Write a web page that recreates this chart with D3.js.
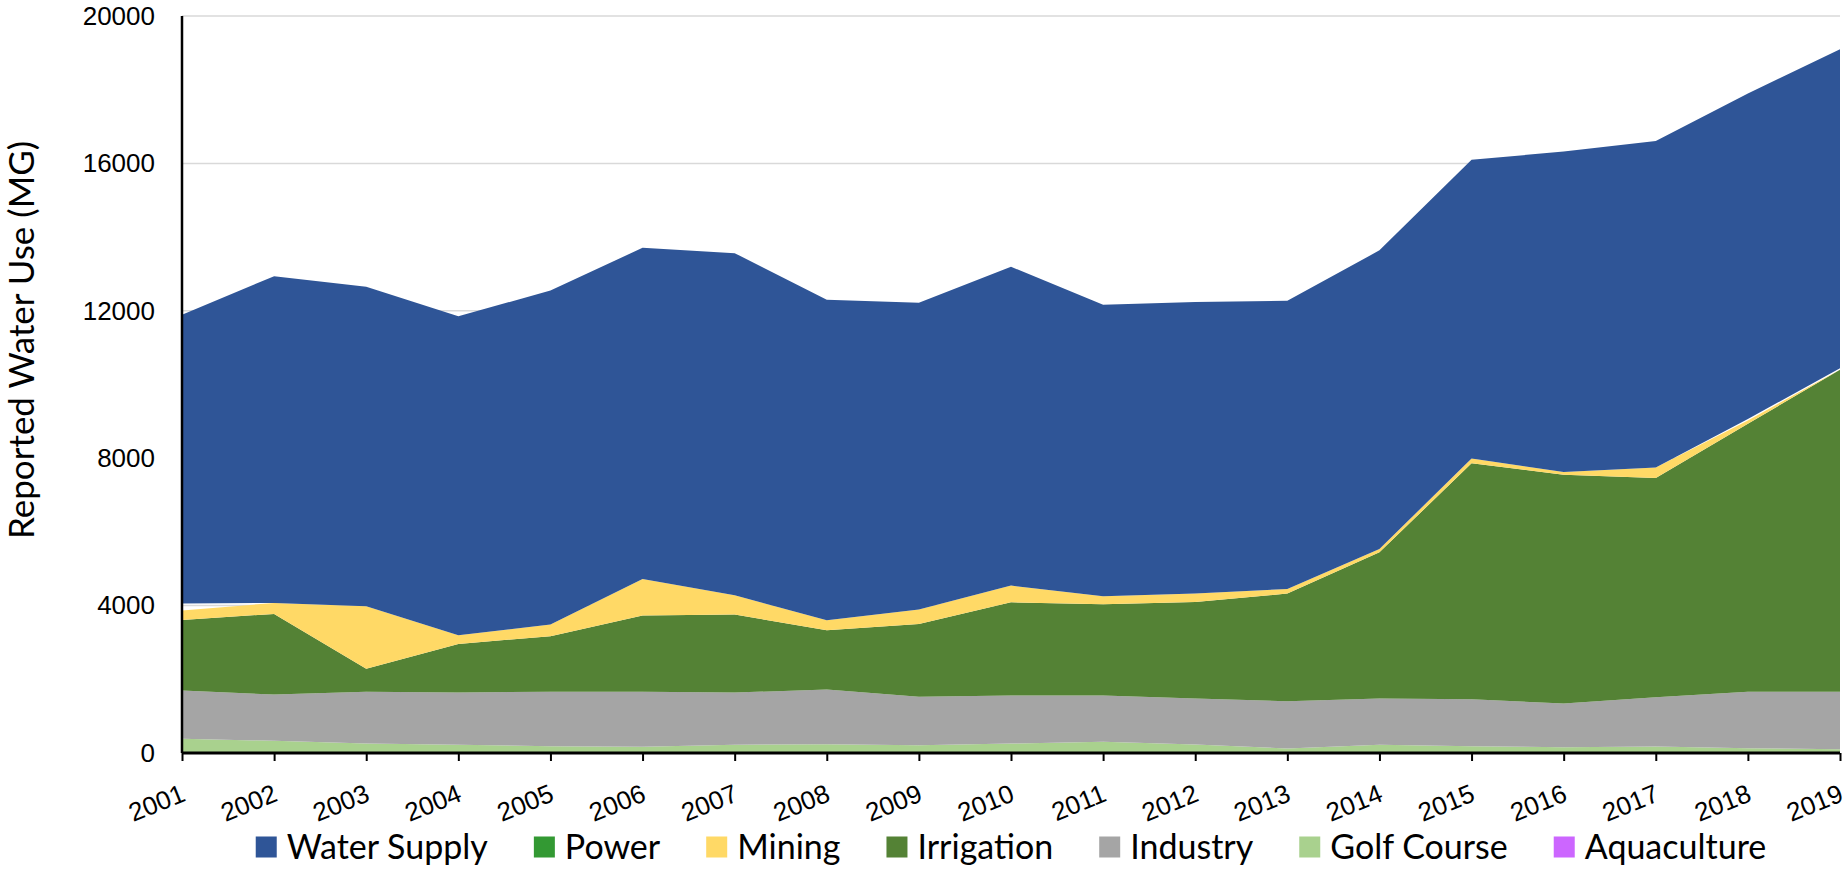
<!doctype html>
<html lang="en">
<head>
  <meta charset="utf-8">
  <title>Reported Water Use</title>
  <style>
    html, body { margin: 0; padding: 0; background: #fff; }
    svg { display: block; font-family: Lato, "Open Sans", sans-serif; }
    .grid line { stroke: #d9d9d9; stroke-width: 1.5px; }
    .tick-y { font-size: 26px; fill: #000; }
    .tick-x { font-size: 26px; fill: #000; }
    .legend text { font-size: 34px; fill: #000; }
  </style>
</head>
<body>
  <svg id="chart" width="1845" height="871"></svg>
  <script src="https://d3js.org/d3.v7.min.js"></script>
  <script>

  // DATA (MG per year)
  let years = [2001, 2002, 2003, 2004, 2005, 2006, 2007, 2008, 2009, 2010,
               2011, 2012, 2013, 2014, 2015, 2016, 2017, 2018, 2019];
  let aquaculture = [0, 0, 0, 25, 0, 0, 0, 0, 0, 0, 0, 0, 0, 10, 0, 0, 0, 0, 0];
  let golfCourse  = [385, 331, 258, 197, 185, 168, 225, 240, 210, 255, 308, 230, 122, 212, 185, 158, 176, 131, 103];
  let industry    = [1310, 1256, 1404, 1419, 1477, 1494, 1416, 1482, 1314, 1304, 1251, 1248, 1283, 1256, 1275, 1184, 1338, 1529, 1557];
  let irrigation  = [1917, 2188, 621, 1320, 1506, 2067, 2115, 1609, 1980, 2531, 2477, 2622, 2921, 3968, 6400, 6211, 5949, 7276, 8740];
  let mining      = [253, 298, 1699, 234, 317, 995, 524, 271, 388, 453, 217, 226, 127, 92, 130, 73, 288, 89, 0];
  let power       = [0, 0, 0, 0, 0, 0, 0, 0, 0, 0, 0, 0, 0, 0, 0, 0, 0, 0, 0];
  // unfilled sliver between Mining and Water Supply (gridline shows through)
  let unfilled    = [190, 0, 0, 0, 0, 0, 0, 0, 0, 0, 0, 0, 0, 0, 0, 0, 0, 40, 40];
  let waterSupply = [7835, 8867, 8668, 8655, 9065, 8986, 9285, 8698, 8326, 8651, 7910, 7910, 7819, 8102, 8110, 8694, 8859, 8835, 8660];

  let yTicks = [0, 4000, 8000, 12000, 16000, 20000];
  let legendNames = ["Water Supply", "Power", "Mining", "Irrigation", "Industry", "Golf Course", "Aquaculture"];

  let colors = {
    "Water Supply": "#2f5597",
    "Power": "#339933",
    "Mining": "#ffd966",
    "Irrigation": "#548235",
    "Industry": "#a5a5a5",
    "Golf Course": "#a9d18e",
    "Aquaculture": "#cc66ff",
    "unfilled": "none"
  };

  // stack order bottom -> top
  let keys = ["Aquaculture", "Golf Course", "Industry", "Irrigation", "Mining", "Power", "unfilled", "Water Supply"];
  let series = {
    "Aquaculture": aquaculture, "Golf Course": golfCourse, "Industry": industry,
    "Irrigation": irrigation, "Mining": mining, "Power": power,
    "unfilled": unfilled, "Water Supply": waterSupply
  };
  let rows = years.map(function(y, i) {
    let r = { year: y };
    keys.forEach(function(k) { r[k] = series[k][i]; });
    return r;
  });

  let svg = d3.select("#chart"),
      margin = { top: 16, right: 5, bottom: 118, left: 182 },
      width = +svg.attr("width") - margin.left - margin.right,
      height = +svg.attr("height") - margin.top - margin.bottom;

  let g = svg.append("g").attr("transform", "translate(" + margin.left + "," + margin.top + ")");

  let x = d3.scaleLinear().domain([years[0], years[years.length - 1]]).range([0, width]);
  let y = d3.scaleLinear().domain([0, 20000]).range([height, 0]);

  // gridlines
  g.append("g").attr("class", "grid")
    .selectAll("line").data(yTicks.filter(function(d) { return d > 0; }))
    .enter().append("line")
      .attr("x1", 0).attr("x2", width)
      .attr("y1", function(d) { return y(d); })
      .attr("y2", function(d) { return y(d); });

  // areas
  let stacked = d3.stack().keys(keys)(rows);
  let area = d3.area()
    .x(function(d) { return x(d.data.year); })
    .y0(function(d) { return y(d[0]); })
    .y1(function(d) { return y(d[1]); });

  g.selectAll(".layer")
    .data(stacked.filter(function(s) { return colors[s.key] !== "none"; }))
    .enter().append("path")
      .attr("class", "layer")
      .attr("fill", function(d) { return colors[d.key]; })
      .attr("d", area);

  // y axis
  let yAxis = g.append("g")
    .call(d3.axisLeft(y).tickValues(yTicks).tickSize(0).tickPadding(27).tickFormat(d3.format("d")));
  yAxis.select(".domain").remove();
  yAxis.selectAll("text").attr("class", "tick-y").style("font-family", null).style("font-size", null);
  g.append("line").attr("x1", 0).attr("x2", 0).attr("y1", 0).attr("y2", height)
    .attr("stroke", "#000").attr("stroke-width", 2.5);

  // x axis
  let xAxis = g.append("g")
    .attr("transform", "translate(0," + height + ")")
    .call(d3.axisBottom(x).tickValues(years).tickSize(8).tickFormat(d3.format("d")));
  xAxis.select(".domain").attr("stroke-width", 3).attr("d", "M0,0H" + width);
  xAxis.selectAll(".tick line").attr("stroke-width", 2);
  xAxis.selectAll("text")
    .attr("class", "tick-x")
    .style("font-family", null).style("font-size", null)
    .attr("text-anchor", "end")
    .attr("x", 0).attr("y", 0).attr("dy", "0.35em")
    .attr("transform", "translate(1,39) rotate(-22)");

  // y title
  svg.append("text")
    .attr("transform", "translate(34,340) rotate(-90)")
    .attr("text-anchor", "middle")
    .style("font-size", "35px")
    .text("Reported  Water Use (MG)");

  // legend
  let legend = svg.append("g").attr("class", "legend");
  let box = 21, boxGap = 10, itemGap = 46;
  let items = legend.selectAll("g").data(legendNames).enter().append("g");
  items.append("rect").attr("width", box).attr("height", box)
    .attr("y", -box / 2)
    .attr("fill", function(d) { return colors[d]; });
  items.append("text").attr("x", box + boxGap).attr("dy", "0.35em").text(function(d) { return d; });

  let pos = 0, offsets = [];
  items.each(function() {
    offsets.push(pos);
    let w = d3.select(this).select("text").node().getComputedTextLength();
    pos += box + boxGap + w + itemGap;
  });
  let total = pos - itemGap;
  let startX = margin.left + width / 2 - total / 2;
  items.attr("transform", function(d, i) { return "translate(" + (startX + offsets[i]) + ",847)"; });

  </script>
</body>
</html>
